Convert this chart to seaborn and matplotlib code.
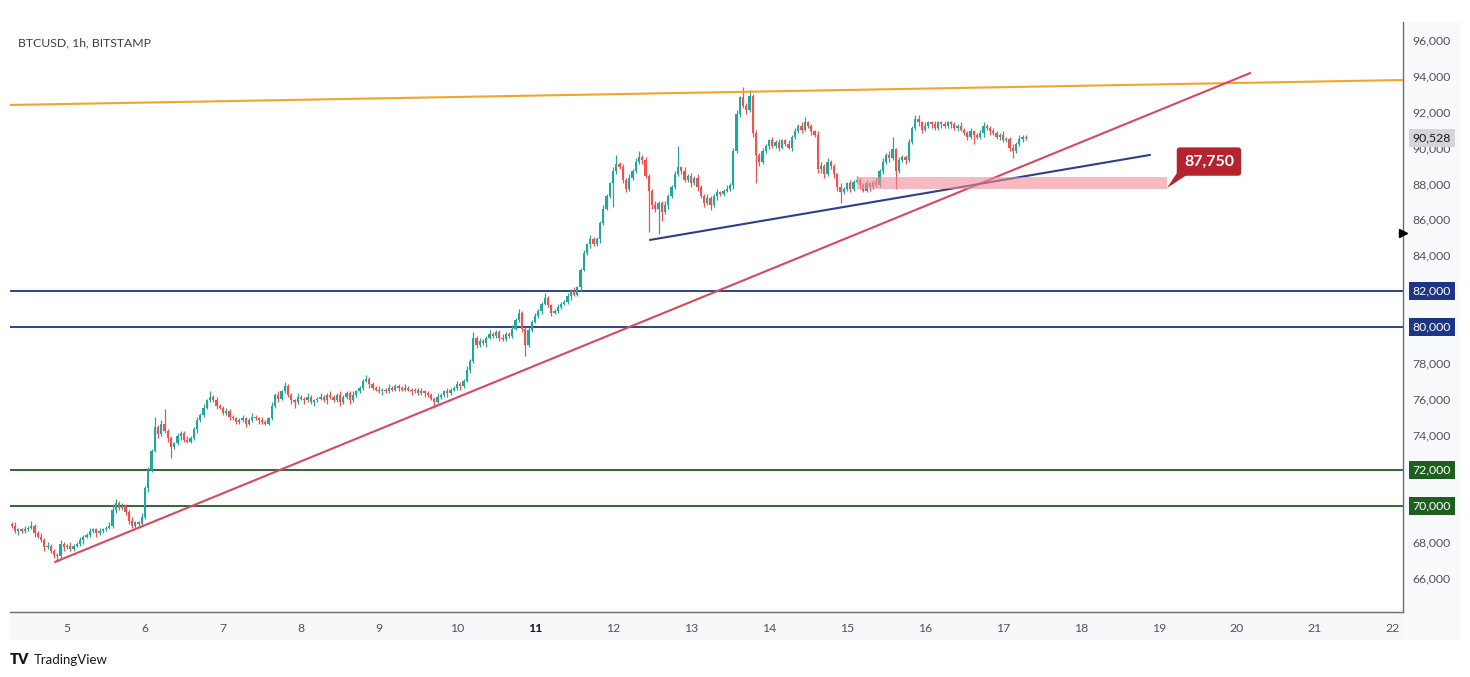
import numpy as np
import pandas as pd
import matplotlib
matplotlib.use("Agg")
import matplotlib.pyplot as plt
import matplotlib.transforms as mtransforms
from matplotlib.patches import Rectangle, Polygon
import seaborn as sns

# ---------------- data (prices in thousands USD, hourly candles) ----------------
start_time = "2024-11-04 07:00"
first_open = 69.0
closes = [
    68.9, 68.6, 68.7, 68.6, 68.7, 68.8, 68.9, 68.5, 68.3, 68.1,
    67.7, 67.8, 67.5, 67.3, 67.2, 67.9, 67.7, 67.8, 67.6, 67.8,
    67.9, 68.1, 68.3, 68.4, 68.6, 68.7, 68.5, 68.6, 68.7, 68.8,
    68.9, 69.8, 70.2, 69.9, 70.0, 69.7, 69.2, 68.9, 69.1, 69.0,
    69.4, 71.0, 72.0, 73.1, 74.4, 74.0, 74.6, 74.2, 73.8, 73.3,
    73.5, 73.9, 74.1, 73.7, 73.6, 73.8, 74.3, 74.8, 75.1, 75.5,
    75.9, 76.1, 75.9, 75.6, 75.5, 75.2, 75.3, 75.0, 74.9, 74.7,
    74.8, 74.9, 74.6, 74.8, 75.0, 74.9, 74.8, 74.7, 74.6, 74.9,
    75.6, 76.2, 76.0, 76.4, 76.7, 76.2, 75.9, 75.8, 76.1, 76.0,
    75.9, 76.1, 75.8, 75.9, 76.0, 76.1, 75.9, 76.2, 76.1, 75.9,
    76.2, 75.8, 76.1, 76.3, 75.9, 76.2, 76.4, 76.6, 77.0, 77.1,
    76.8, 76.6, 76.5, 76.4, 76.5, 76.4, 76.6, 76.5, 76.7, 76.6,
    76.5, 76.6, 76.5, 76.4, 76.5, 76.3, 76.4, 76.3, 76.2, 76.0,
    75.8, 76.1, 76.2, 76.4, 76.3, 76.5, 76.6, 76.8, 76.7, 77.0,
    77.6, 78.1, 79.4, 79.0, 79.2, 79.1, 79.4, 79.6, 79.5, 79.7,
    79.4, 79.3, 79.6, 79.5, 79.9, 80.4, 80.8, 79.9, 79.0, 79.8,
    80.3, 80.6, 80.9, 81.3, 81.6, 81.2, 80.8, 80.9, 81.1, 81.3,
    81.4, 81.7, 82.0, 81.8, 82.2, 83.2, 84.1, 84.6, 84.9, 84.6,
    84.9, 85.8, 86.6, 87.3, 88.0, 88.7, 89.1, 88.9, 88.2, 87.7,
    88.3, 88.7, 89.2, 89.5, 89.3, 88.4, 87.6, 86.8, 86.6, 86.9,
    86.4, 86.8, 87.3, 87.8, 88.5, 88.9, 88.7, 88.2, 88.4, 88.0,
    88.3, 87.8, 87.3, 86.9, 87.2, 86.8, 87.3, 87.5, 87.4, 87.6,
    87.7, 87.9, 89.8, 91.9, 92.8, 92.3, 92.1, 92.9, 90.8, 89.6,
    89.2, 89.8, 90.1, 90.4, 90.1, 90.3, 90.0, 90.4, 90.2, 90.0,
    90.6, 90.9, 91.2, 91.0, 91.4, 91.2, 90.9, 90.7, 88.8, 89.0,
    88.5, 89.2, 89.0, 88.5, 87.8, 87.5, 87.7, 88.0, 87.7, 88.1,
    88.2, 87.9, 87.6, 88.0, 87.8, 88.1, 87.9, 88.7, 89.2, 89.6,
    89.4, 89.9, 88.7, 89.3, 89.5, 89.3, 90.3, 91.1, 91.6, 91.4,
    91.0, 91.2, 91.4, 91.3, 91.1, 91.4, 91.3, 91.2, 91.4, 91.3,
    91.1, 91.2, 91.0, 90.8, 90.6, 90.9, 90.7, 90.6, 90.8, 91.2,
    91.1, 90.9, 90.8, 90.6, 90.7, 90.4, 90.5, 90.0, 89.8, 90.2,
    90.5, 90.6, 90.528,
]
# wick length beyond the body, in units of 100 USD
upper_wick = [
    1, 2, 1, 1, 2, 1, 3, 1, 1, 2,  1, 2, 1, 1, 1, 2, 1, 1, 2, 1,
    1, 2, 1, 1, 2, 1, 1, 2, 1, 1,  2, 3, 2, 1, 2, 1, 1, 2, 1, 1,
    2, 1, 2, 1, 6, 1, 2, 8, 1, 1,  1, 2, 1, 1, 2, 1, 1, 2, 1, 2,
    1, 3, 1, 2, 1, 1, 2, 1, 1, 1,  1, 2, 1, 1, 2, 1, 1, 2, 1, 1,
    2, 1, 2, 1, 2, 1, 1, 1, 2, 1,  1, 2, 1, 1, 1, 2, 1, 1, 2, 1,
    1, 2, 1, 1, 1, 2, 1, 1, 1, 2,  1, 1, 1, 2, 1, 1, 2, 1, 1, 1,
    1, 2, 1, 1, 1, 1, 2, 1, 1, 1,  1, 2, 1, 1, 2, 1, 1, 2, 1, 1,
    2, 1, 3, 1, 2, 1, 1, 2, 1, 1,  1, 2, 1, 1, 2, 1, 2, 1, 1, 2,
    1, 2, 1, 1, 3, 1, 1, 1, 2, 1,  1, 2, 1, 2, 1, 1, 2, 1, 2, 1,
    1, 1, 2, 1, 1, 2, 5, 1, 2, 1,  2, 1, 2, 3, 1, 2, 1, 1, 2, 1,
    1, 2, 1, 1, 2, 12, 1, 2, 1, 2, 1, 2, 1, 1, 2, 1, 1, 2, 1, 1,
    2, 1, 2, 2, 1, 6, 2, 3, 1, 2,  1, 2, 1, 1, 2, 1, 2, 1, 1, 2,
    1, 2, 1, 2, 3, 1, 1, 1, 2, 2,  1, 2, 1, 1, 1, 2, 1, 1, 2, 1,
    2, 1, 1, 2, 1, 1, 2, 1, 2, 1,  2, 7, 1, 2, 1, 1, 2, 1, 2, 2,
    1, 2, 1, 1, 2, 1, 1, 2, 1, 1,  1, 1, 2, 1, 1, 2, 1, 1, 2, 2,
    1, 1, 2, 1, 1, 2, 1, 1, 2, 1,  2, 1, 1,
]
lower_wick = [
    1, 1, 2, 1, 1, 1, 1, 2, 1, 1,  2, 1, 1, 2, 3, 1, 2, 1, 1, 1,
    1, 1, 2, 1, 1, 1, 2, 1, 1, 1,  1, 1, 2, 1, 1, 2, 2, 1, 1, 2,
    1, 1, 2, 1, 1, 2, 1, 1, 2, 6,  1, 1, 2, 1, 1, 1, 1, 2, 1, 1,
    1, 1, 1, 2, 1, 1, 1, 2, 1, 1,  1, 1, 2, 1, 1, 1, 2, 1, 1, 1,
    1, 1, 2, 1, 1, 1, 2, 3, 1, 1,  2, 1, 1, 2, 1, 1, 1, 2, 1, 1,
    1, 2, 1, 1, 2, 1, 1, 1, 1, 1,  2, 1, 1, 1, 2, 1, 1, 1, 1, 2,
    1, 1, 1, 2, 1, 1, 1, 2, 1, 1,  3, 1, 1, 1, 2, 1, 1, 1, 2, 1,
    1, 2, 1, 2, 1, 1, 2, 1, 1, 1,  2, 1, 1, 1, 1, 1, 1, 2, 6, 1,
    1, 1, 1, 2, 1, 1, 2, 1, 1, 1,  1, 1, 2, 1, 1, 2, 1, 1, 2, 1,
    1, 2, 1, 1, 1, 13, 2, 1, 2, 2, 1, 1, 1, 1, 2, 1, 23, 2, 2, 14,
    5, 1, 2, 1, 1, 1, 2, 1, 1, 2,  1, 2, 1, 2, 1, 3, 1, 2, 1, 1,
    1, 1, 2, 1, 2, 1, 2, 1, 2, 16, 2, 1, 1, 2, 1, 1, 2, 1, 1, 1,
    2, 1, 1, 2, 1, 1, 2, 1, 2, 2,  2, 1, 2, 2, 2, 6, 1, 1, 2, 1,
    1, 2, 1, 1, 2, 1, 1, 1, 2, 1,  2, 1, 10, 1, 1, 2, 1, 1, 1, 2,
    2, 1, 1, 2, 1, 1, 2, 1, 1, 2,  1, 2, 1, 1, 2, 1, 5, 1, 1, 2,
    1, 2, 1, 1, 2, 1, 1, 2, 4, 1,  1, 2, 1,
]

# drawings (day of November, price in USD)
resistance_days = [4.27, 22.13]
resistance_prices = [92375, 93770]
uptrend_days = [4.846, 20.17]
uptrend_prices = [66890, 94160]
rising_support_days = [12.474, 18.885]
rising_support_prices = [84850, 89590]
zone_days = [15.13, 19.10]
zone_prices = [87690, 88360]
target_label = "87,750"
target_price = 87750
blue_levels = [82000, 80000]
green_levels = [72000, 70000]
last_price = 90528
marker_price = 85240
y_ticks = list(range(66000, 96001, 2000))
x_ticks = list(range(5, 23))
title_text = "BTCUSD, 1h, BITSTAMP"

# ---------------- styling ----------------
sns.set_theme(style="white")
plt.rcParams['font.family'] = ['Lato', 'DejaVu Sans']

GREEN = "#26a69a"
RED = "#ef5350"
TXT = "#50535e"

fig = plt.figure(figsize=(14.7, 6.77), dpi=100)
fig.patch.set_facecolor("white")
ax = fig.add_axes([10 / 1470, 1 - 612 / 677, (1403 - 10) / 1470, (612 - 22) / 677])
ax.set_facecolor("white")

times = pd.date_range(start_time, periods=len(closes), freq="h")
day = times.day.values + times.hour.values / 24.0
close = np.array(closes) * 1000.0
open_ = np.concatenate([[first_open * 1000.0], close[:-1]])
high = np.maximum(open_, close) + np.array(upper_wick) * 100.0
low = np.minimum(open_, close) - np.array(lower_wick) * 100.0
is_up = close >= open_
colors = np.where(is_up, GREEN, RED)

# candles
ax.vlines(day, low, high, colors=colors, lw=0.9, zorder=3)
body_bottom = np.minimum(open_, close)
body_h = np.maximum(np.abs(close - open_), 45)
ax.bar(day, body_h, bottom=body_bottom, width=0.7 / 24, color=colors,
       linewidth=0, zorder=4)

# horizontal levels
for lv in blue_levels:
    ax.axhline(lv, color="#1d3585", lw=1.3, zorder=2)
for lv in green_levels:
    ax.axhline(lv, color="#1e5e20", lw=1.3, zorder=2)

# trendlines
sns.lineplot(x=resistance_days, y=resistance_prices, color="#f3a42a", lw=1.5, ax=ax, zorder=5)
sns.lineplot(x=uptrend_days, y=uptrend_prices, color="#d9485e", lw=1.5, ax=ax, zorder=5)
sns.lineplot(x=rising_support_days, y=rising_support_prices, color="#2d3e8a", lw=1.5, ax=ax, zorder=5)

# zone
ax.add_patch(Rectangle((zone_days[0], zone_prices[0]), zone_days[1] - zone_days[0],
                       zone_prices[1] - zone_prices[0], facecolor="#f28d99", alpha=0.6,
                       edgecolor="none", zorder=5))

# callout
ax.add_patch(Polygon([[19.103, target_price], [19.24, 88650], [19.42, 88650]],
                     closed=True, facecolor="#b5232f", edgecolor="none", zorder=6))
ax.text(19.64, 89220, target_label, color="white", fontsize=11.5, fontweight="bold",
        ha="center", va="center", zorder=7,
        bbox=dict(boxstyle="round,pad=0.45,rounding_size=0.2", fc="#b5232f", ec="none"))

ax.set_xlim(4.269, 22.128)
ax.set_ylim(64098, 97004)

# axes
ax.yaxis.tick_right()
ax.set_yticks(y_ticks)
ax.set_yticklabels([f"{v:,}" for v in y_ticks], color=TXT, fontsize=8.8)
ax.set_xticks(x_ticks)
ax.set_xticklabels([str(v) for v in x_ticks], color=TXT, fontsize=8.8)
for lbl in ax.get_xticklabels():
    if lbl.get_text() == "11":
        lbl.set_fontweight("bold")
        lbl.set_color("#131722")
ax.tick_params(axis="y", length=0, pad=7)
ax.tick_params(axis="x", length=0, pad=8)
for side in ["left", "top"]:
    ax.spines[side].set_visible(False)
ax.spines["right"].set_color("#6a6d78")
ax.spines["bottom"].set_color("#6a6d78")
ax.spines["right"].set_linewidth(1.0)
ax.spines["bottom"].set_linewidth(1.0)

ytrans = ax.get_yaxis_transform()
off = mtransforms.ScaledTranslation(7 / 72, 0, fig.dpi_scale_trans)
for lv in blue_levels:
    ax.text(1.0, lv, f"{lv:,}", transform=ytrans + off, ha="left", va="center",
            color="white", fontsize=8.8, zorder=10, clip_on=False,
            bbox=dict(boxstyle="square,pad=0.3", fc="#1d3585", ec="none"))
for lv in green_levels:
    ax.text(1.0, lv, f"{lv:,}", transform=ytrans + off, ha="left", va="center",
            color="white", fontsize=8.8, zorder=10, clip_on=False,
            bbox=dict(boxstyle="square,pad=0.3", fc="#1e5e20", ec="none"))
ax.text(1.0, last_price, f"{last_price:,}", transform=ytrans + off, ha="left", va="center",
        color="#131722", fontsize=8.8, zorder=10, clip_on=False,
        bbox=dict(boxstyle="square,pad=0.3", fc="#d3d5da", ec="none"))
ax.plot([1.0], [marker_price], marker=">", color="black", markersize=6,
        transform=ytrans, clip_on=False, zorder=11)

# background strips (x-axis and price-axis areas)
fig.patches.append(Rectangle((10 / 1470, 1 - 640 / 677), (1460 - 10) / 1470, 28 / 677,
                             transform=fig.transFigure, facecolor="#f7f8fa",
                             edgecolor="none", zorder=-5))
fig.patches.append(Rectangle((1403 / 1470, 1 - 640 / 677), 57 / 1470, 618 / 677,
                             transform=fig.transFigure, facecolor="#f9fafb",
                             edgecolor="none", zorder=-5))

# title & logo
fig.text(18 / 1470, 1 - 43 / 677, title_text, ha="left", va="center", fontsize=8.8,
         color="#3c3f4a")
fig.text(10 / 1470, 1 - 660 / 677, "TV", ha="left", va="center", fontsize=10.5,
         fontweight="heavy", color="#131722")
fig.text(34 / 1470, 1 - 660 / 677, "TradingView", ha="left", va="center", fontsize=9.5,
         color="#131722")

fig.savefig("out.png", dpi=100, facecolor="white")
